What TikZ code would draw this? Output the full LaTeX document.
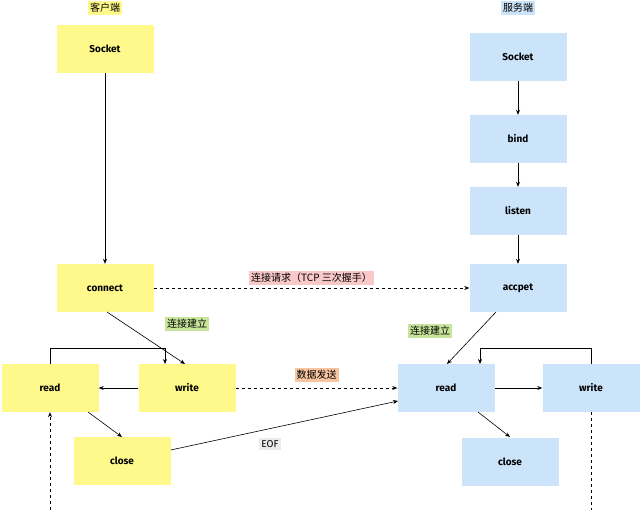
\documentclass[tikz,border=0pt]{standalone}
\usepackage{fontspec}
\setmainfont{Fira Sans}
\newfontfamily\cjk{Noto Sans CJK SC}
\usetikzlibrary{arrows.meta}
\definecolor{yel}{HTML}{FFF98C}
\definecolor{blu}{HTML}{CCE4FA}
\definecolor{grn}{HTML}{C6E59A}
\definecolor{pnk}{HTML}{F9C8C8}
\definecolor{org}{HTML}{F7C59F}
\definecolor{gry}{HTML}{EBEBEB}
\begin{document}
\begin{tikzpicture}[x=1pt,y=-1pt,
 box/.style={minimum width=97pt,minimum height=48pt,inner sep=0pt,font=\fontsize{10}{11}\selectfont\bfseries},
 yb/.style={box,fill=yel},
 bb/.style={box,fill=blu},
 lab/.style={inner sep=2pt,font=\cjk\fontsize{10}{11}\selectfont},
 arr/.style={-{Stealth[length=5pt,width=4pt]},line width=0.6pt},
 dsh/.style={arr,dashed}]
\useasboundingbox (0,0) rectangle (640,510);
\node[lab,fill=yel] (cl) at (105,8) {客户端};
\node[lab,fill=blu] (sv) at (518,8) {服务端};
\node[yb] (cs) at (105,49) {Socket};
\node[yb] (cc) at (105,288) {connect};
\node[yb] (lr) at (50,388) {read};
\node[yb] (lw) at (187,388) {write};
\node[yb] (lc) at (122,461) {close};
\node[bb] (ss) at (518,57) {Socket};
\node[bb] (sb) at (518,139) {bind};
\node[bb] (sl) at (518,211) {listen};
\node[bb] (sa) at (518,288) {accpet};
\node[bb] (rr) at (446,388) {read};
\node[bb] (rw) at (591,388) {write};
\node[bb] (rc) at (510,462) {close};
\coordinate (lb) at (50,510);
\coordinate (rb) at (591,510);
\draw[arr] (cs) -- (cc);
\draw[arr] (ss) -- (sb);
\draw[arr] (sb) -- (sl);
\draw[arr] (sl) -- (sa);
\draw[dsh] (cc) -- node[lab,fill=pnk,above=3pt] {连接请求（TCP 三次握手）} (sa);
\draw[arr] (107,312) -- (185,364);
\node[lab,fill=grn] (l1) at (187,324) {连接建立};
\draw[arr] (lr.north) -- (50,348) -- (165,348) -- (165,364);
\draw[arr] (lw) -- (lr);
\draw[arr] (88,412) -- (122,437);
\draw[dsh] (lb) -- (lr);
\draw[dsh] (lw) -- node[lab,fill=org,above=6pt] {数据发送} (rr);
\draw[arr] (lc.east) ++(0,-11) -- (398,401);
\node[lab,fill=gry] (eof) at (270,444) {\fontspec{Fira Sans}EOF};
\draw[arr] (496,312) -- (447,364);
\node[lab,fill=grn] (l2) at (430,331) {连接建立};
\draw[arr] (rw.north) -- (591,348) -- (480,348) -- (480,364);
\draw[arr] (rr) -- (rw);
\draw[arr] (478,412) -- (510,437);
\draw[dashed,line width=0.6pt] (rw) -- (rb);
\end{tikzpicture}
\end{document}
